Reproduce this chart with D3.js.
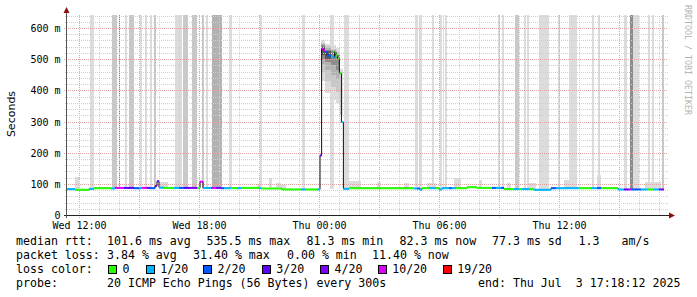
<!DOCTYPE html>
<html><head><meta charset="utf-8">
<script src="https://cdn.jsdelivr.net/npm/d3@7/dist/d3.min.js"></script>
<style>
html,body{margin:0;padding:0;background:#fff;}
svg{display:block;}
text{font-family:"DejaVu Sans Mono",monospace;fill:#000;}
</style></head><body>
<svg id="c" width="697" height="297"></svg>
<script>
// ---- data (times in hours since Wed Jul 2 2025 00:00) ----
const timeStart = 11.4, timeEnd = 41.4;
const yTicks = [0,100,200,300,400,500,600];
const yTickLabels = ["0","100 m","200 m","300 m","400 m","500 m","600 m"];
const lossLabels = ["0","1/20","2/20","3/20","4/20","10/20","19/20"];
const lossColors = ["#26ff00","#00b8ff","#0059ff","#5e00ff","#7e00ff","#dd00ff","#ff0000"];
const smokeShades = ["#dcdcdc","#c8c8c8","#b2b2b2","#8c8c8c","#5a5a5a"];

// median rtt step segments: start time, value (ms), loss bucket index
const medStart = [11.4,11.8,12.5,12.75,13.6,13.8,14.25,14.75,15.0,15.15,15.4,15.55,15.8,15.9,16.0,16.25,16.75,17.0,17.25,17.55,17.9,18.05,18.2,18.6,18.85,19.1,19.25,19.6,19.9,20.1,21.0,21.1,22.15,23.1,23.35,23.9,24.05,24.13,24.2,24.3,24.4,24.5,24.6,24.7,24.78,24.85,24.93,25.02,25.12,25.22,25.5,28.75,28.9,29.05,29.15,29.5,29.85,30.0,30.15,30.5,30.65,30.85,31.4,31.9,32.65,32.85,33.1,33.25,33.75,34.0,34.15,34.5,34.75,35.6,35.85,37.0,37.6,37.9,38.1,38.95,39.25,39.5,39.65,40.1,40.4,40.75,41.0];
const medValue = [83,81,84,86,85,87,87,86,86,87,87,86,93,108,88,87,87,87,87,87,87,107,87,87,87,86,86,86,86,87,87,85,82,82,82,82,191,533,527,523,512,511,508,505,524,512,502,455,298,84,86,85,85,81,86,86,86,82,86,86,86,86,89,87,87,87,87,83,83,83,83,83,81,86,86,86,86,86,86,82,82,82,82,82,82,82,82];
const medLoss  = [1,0,1,0,1,5,3,2,1,5,3,2,4,3,1,0,1,2,3,4,0,5,1,5,4,2,1,0,1,0,1,0,0,1,0,1,3,5,5,2,2,2,1,1,0,0,0,0,1,1,0,1,2,1,0,1,0,1,1,2,1,0,0,0,2,1,2,0,1,0,1,0,1,2,1,0,1,2,0,1,3,5,2,1,0,1,4];
const medEnd = 41.25;

// smoke: [t0, t1, lowest ms, highest ms, shade]
const smoke = [
 [12.55,12.75,82,999,0],[13.63,13.88,82,999,1],[14.0,14.04,82,999,3],[14.3,14.39,82,999,0],
 [14.5,14.75,82,999,1],[15.05,15.14,82,999,0],[15.3,15.39,82,999,0],[15.55,15.64,82,999,0],
 [15.75,15.85,82,999,1],[16.8,17.14,82,999,0],[17.19,17.47,82,999,1],[17.64,17.89,82,999,1],
 [18.14,18.25,82,999,1],[18.35,18.45,82,999,0],[18.64,19.14,82,999,2],[19.5,19.64,82,999,0],
 [21.04,21.17,82,999,0],[23.15,23.3,82,999,0],[24.55,24.75,82,999,0],[25.25,25.5,82,999,0],
 [26.0,26.05,82,999,0],[28.8,28.97,82,999,0],[29.02,29.14,82,999,0],[29.64,29.75,82,999,0],
 [30.05,30.14,82,999,0],[30.19,30.25,82,999,0],[30.3,30.39,82,999,0],[32.97,33.05,82,999,0],
 [33.14,33.25,82,999,0],[33.8,34.02,82,999,1],[34.27,34.35,82,999,0],[34.39,34.5,82,999,0],
 [35.0,35.3,82,999,0],[35.3,35.5,82,999,0],[35.94,36.05,82,999,0],[36.5,36.92,82,999,0],
 [37.64,37.75,82,999,0],[37.94,38.05,82,999,0],[39.27,39.39,82,999,0],[39.55,39.69,82,999,3],
 [39.69,40.0,82,999,0],[40.44,40.55,82,999,0],[40.64,40.75,82,999,0],[41.14,41.25,82,999,1],
 [11.8,12.0,80,123,0],[16.05,16.45,84,105,0],[20.9,21.15,84,100,0],[21.5,21.65,84,120,0],
 [21.85,22.1,84,104,0],[22.1,22.35,82,95,0],[25.22,26.1,82,110,0],[26.9,27.1,84,107,0],
 [28.25,28.5,84,104,0],[29.4,29.85,84,104,0],[30.75,31.1,84,120,0],[32.0,32.15,84,113,0],
 [33.4,33.6,82,104,0],[34.4,34.85,82,104,0],[36.25,36.9,84,113,0],[37.9,38.1,84,129,0],
 [40.3,41.1,80,107,0],
 [24.12,24.3,430,560,0],[24.3,24.6,390,550,0],[24.6,24.85,370,545,0],[24.85,25.05,360,535,0],[25.05,25.2,320,470,0],
 [24.12,24.3,460,552,1],[24.3,24.6,430,542,1],[24.6,24.85,410,532,1],[24.85,25.05,395,522,1],
 [24.12,24.3,485,548,2],[24.3,24.6,465,535,2],[24.6,24.85,450,528,2],[24.85,25.05,435,518,2],
 [24.12,24.3,500,545,3],[24.3,24.6,490,530,3],[24.6,24.85,480,525,3],[24.85,25.05,465,512,3],
 [24.12,24.3,512,540,4],[24.3,24.6,500,525,4]
];

// ---- drawing ----
const svg = d3.select("#c");
const base = new Date(2025,6,2,0,0,0,0).getTime();
const T = h => new Date(base + h*3600e3);
const x = d3.scaleTime().domain([T(timeStart),T(timeEnd)]).range([67,667]);
const y = d3.scaleLinear().domain([0,645]).range([215,14]);
const px = v => Math.round(v)+0.5;

// smoke
svg.append("g").selectAll("rect").data(smoke).join("rect")
  .attr("x", d=>x(T(d[0]))).attr("width", d=>Math.max(1,x(T(d[1]))-x(T(d[0]))))
  .attr("y", d=>y(Math.min(d[3],643))).attr("height", d=>y(d[2])-y(Math.min(d[3],643)))
  .attr("fill", d=>smokeShades[d[4]]).attr("shape-rendering","crispEdges");

// grid
const g = svg.append("g").attr("shape-rendering","crispEdges");
const hours = d3.timeHour.every(1).range(T(timeStart),T(timeEnd));
hours.forEach(d=>{
  const major = d.getHours()%3===0;
  g.append("line").attr("x1",px(x(d))).attr("x2",px(x(d)))
   .attr("y1",major?218:215).attr("y2",15)
   .attr("stroke",major?"#e0a4a4":"#cfcfcf").attr("stroke-dasharray","1,1");
});
d3.range(20,645,20).forEach(v=>{
  const major = v%100===0;
  g.append("line").attr("x1",major?64:65).attr("x2",668)
   .attr("y1",px(y(v))).attr("y2",px(y(v)))
   .attr("stroke",major?"#e0a4a4":"#cfcfcf").attr("stroke-dasharray","1,1");
});

// median: black step line then loss-coloured segments
const pts = medStart.map((s,i)=>[s,medValue[i]]);
pts.push([medEnd, medValue[medValue.length-1]]);
svg.append("path").datum(pts)
  .attr("d", d3.line().x(d=>x(T(d[0]))).y(d=>y(d[1])).curve(d3.curveStepAfter))
  .attr("fill","none").attr("stroke","#111").attr("stroke-width",1);
const segLine = d3.line().x(d=>x(T(d[0]))).y(d=>y(d[1]));
medStart.forEach((s,i)=>{
  const e = i<medStart.length-1 ? medStart[i+1] : medEnd;
  svg.append("path").datum([[s,medValue[i]],[e,medValue[i]]])
    .attr("d",segLine).attr("fill","none")
    .attr("stroke",lossColors[medLoss[i]]).attr("stroke-width",2);
});

// axes
const ax = svg.append("g").attr("shape-rendering","crispEdges");
ax.append("line").attr("x1",64).attr("x2",670).attr("y1",215.5).attr("y2",215.5).attr("stroke","#222");
ax.append("line").attr("x1",66.5).attr("x2",66.5).attr("y1",218).attr("y2",13).attr("stroke","#555");
svg.append("path").attr("d","M63.5,13 L66.5,7 L69.5,13 Z").attr("fill","#8b1010");
svg.append("path").attr("d","M669,212.5 L675,215.5 L669,218.5 Z").attr("fill","#8b1010");

// y tick labels
svg.append("g").selectAll("text").data(yTicks).join("text")
  .attr("x",60.5).attr("y",d=>y(d)+4).attr("text-anchor","end")
  .style("font-size","10px").text((d,i)=>yTickLabels[i]);

// x tick labels
const fmt = d3.timeFormat("%a %H:%M");
svg.append("g").selectAll("text").data(d3.timeHour.every(6).range(T(timeStart),T(timeEnd))).join("text")
  .attr("x",d=>x(d)+0.5).attr("y",228.5).attr("text-anchor","middle")
  .style("font-size","10px").text(d=>fmt(d));

// axis title
svg.append("text").attr("transform","translate(14.5,114) rotate(-90)").attr("text-anchor","middle")
  .style("font-family","'DejaVu Sans',sans-serif").style("font-size","11px").text("Seconds");

// watermark
svg.append("text").attr("transform","translate(685,5) rotate(90)")
  .style("font-size","8.3px").style("fill","#b4b4b4").text("RRDTOOL / TOBI OETIKER");

// legend
const lf = "11.6px";
const legend = [
 [245,16,"median rtt:"],[245,107,"101.6 ms avg"],[245,206.5,"535.5 ms max"],[245,306.5,"81.3 ms min"],
 [245,399.5,"82.3 ms now"],[245,492,"77.3 ms sd"],[245,578.5,"1.3"],[245,621.5,"am/s"],
 [259,16,"packet loss:"],[259,107,"3.84 % avg"],[259,193,"31.40 % max"],[259,287,"0.00 % min"],[259,372,"11.40 % now"],
 [273,16,"loss color:"],
 [287,16,"probe:"],[287,107,"20 ICMP Echo Pings (56 Bytes) every 300s"],[287,478,"end: Thu Jul  3 17:18:12 2025"]
];
svg.append("g").selectAll("text").data(legend).join("text")
  .attr("x",d=>d[1]).attr("y",d=>d[0]).style("font-size",lf).style("white-space","pre").text(d=>d[2]);
const boxX = [108,145.7,203,261.7,320,377.7,442.7];
const lg = svg.append("g");
lossLabels.forEach((l,i)=>{
  lg.append("rect").attr("x",Math.round(boxX[i])+0.5).attr("y",265.5).attr("width",8).attr("height",8)
    .attr("fill",lossColors[i]).attr("stroke","#000").attr("stroke-width",1).attr("shape-rendering","crispEdges");
  lg.append("text").attr("x",boxX[i]+14.5).attr("y",273).style("font-size",lf).text(l);
});
</script>
</body></html>
